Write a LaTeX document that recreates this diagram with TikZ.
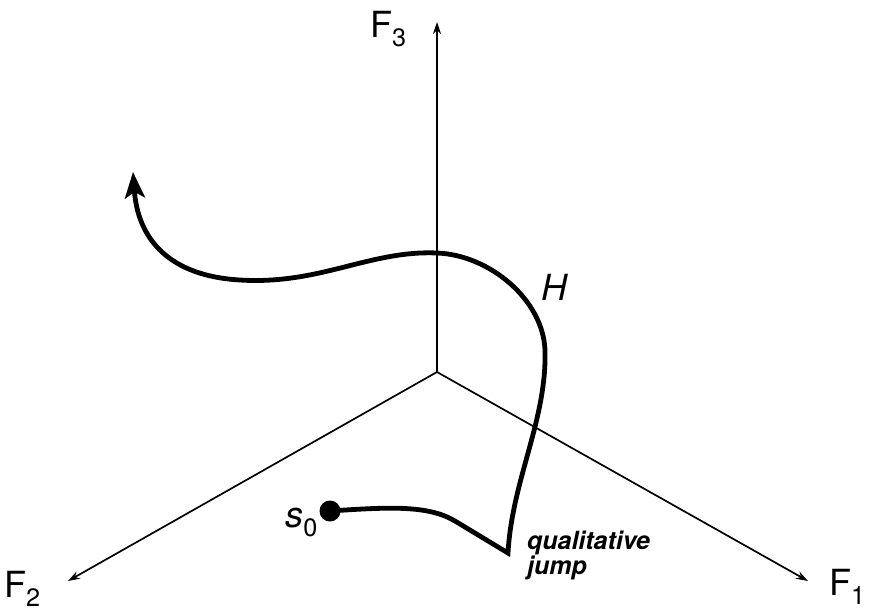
\documentclass[tikz,border=0pt]{standalone}
\usepackage{fontspec}
\setmainfont{TeX Gyre Heros}
\usetikzlibrary{arrows.meta}
\begin{document}
\begin{tikzpicture}[x=1pt,y=-1pt,
  axis/.style={line width=1.7pt,-{Stealth[length=12pt,width=8pt]}},
  traj/.style={line width=4.8pt,line join=miter},
  lab/.style={font=\fontsize{36}{40}\selectfont,inner sep=0pt}]
\useasboundingbox (0,0) rectangle (870,611);
\coordinate (O) at (437,372);
\coordinate (E3) at (437,22);
\coordinate (E2) at (68,581);
\coordinate (E1) at (808,581);
\draw[axis] (O) -- (E3);
\draw[axis] (O) -- (E2);
\draw[axis] (O) -- (E1);
\node[lab,anchor=base west] (F3) at (370,37) {F\textsubscript{3}};
\node[lab,anchor=base west] (F2) at (4,597) {F\textsubscript{2}};
\node[lab,anchor=base west] (F1) at (829,595) {F\textsubscript{1}};
\fill (330,511) circle (10.5pt) coordinate (s0dot);
\draw[traj,-{Stealth[length=26pt,width=20pt,inset=6pt]}] (s0dot) .. controls (390,507) and (428,505) .. (455,521) -- (508,553)
  .. controls (512,480) and (547,420) .. (545,350)
  .. controls (543,300) and (490,255) .. (437,253)
  .. controls (370,250) and (320,285) .. (240,280)
  .. controls (170,276) and (138,240) .. (133,172);
\node[lab,anchor=base east] (s0) at (318,527) {\itshape s\textsubscript{\upshape 0}};
\node[lab,anchor=base west] (H) at (541,300) {\itshape H};
\node[inner sep=0pt,anchor=north west,align=left,font=\fontsize{25}{20}\bfseries\itshape\selectfont] (qj) at (527,531) {qualitative\\jump};
\end{tikzpicture}
\end{document}
